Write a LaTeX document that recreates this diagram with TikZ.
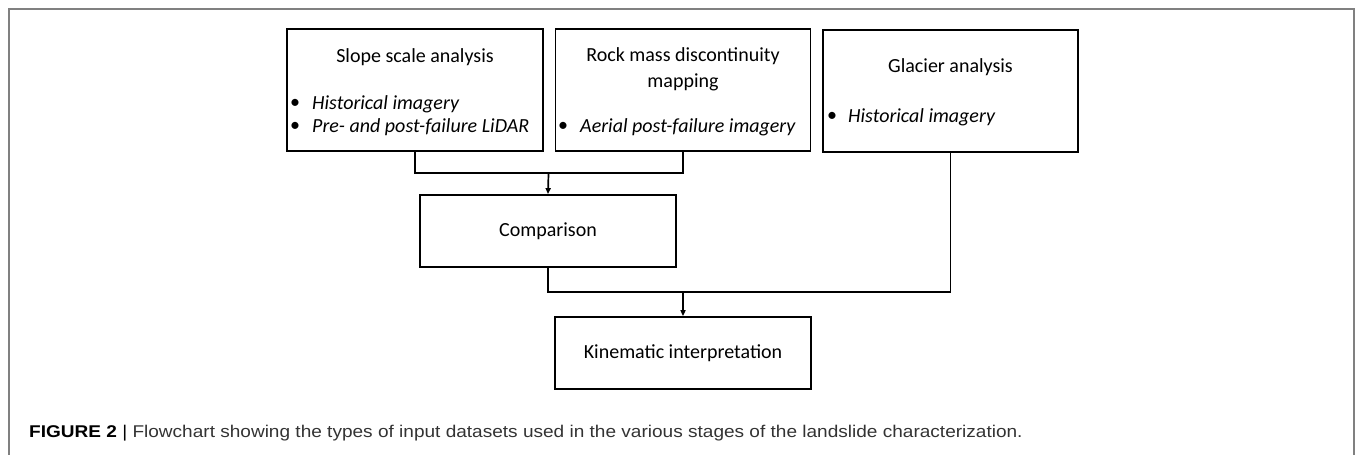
\documentclass[tikz,border=0pt]{standalone}
\usepackage{fontspec}
\setmainfont{Carlito}
\newfontfamily\capfont{Liberation Sans}
\usetikzlibrary{arrows.meta}
\definecolor{framegray}{HTML}{808080}
\definecolor{captext}{HTML}{333333}
\begin{document}
\begin{tikzpicture}[x=1pt,y=-1pt,
  box/.style={draw=black, line width=1.7pt, rectangle, inner sep=0pt},
  title/.style={font=\fontsize{20}{24}\selectfont, align=center, inner sep=0pt},
  item/.style={font=\fontsize{20}{24}\selectfont\itshape, anchor=west, inner sep=0pt},
  bul/.style={font=\fontsize{20}{24}\selectfont, anchor=center, inner sep=0pt},
  conn/.style={draw=black, line width=1.7pt},
  arr/.style={conn, -{Triangle[length=6pt,width=5pt]}}]
\useasboundingbox (0,0) rectangle (1355,455);
\draw[framegray, line width=1.5pt] (9,456) -- (9,9) -- (1354,9) -- (1354,456);

% boxes
\node[box, minimum width=256pt, minimum height=122pt] (b1) at (415,90) {};
\node[box, minimum width=255pt, minimum height=122pt] (b2) at (683,90) {};
\node[box, minimum width=255pt, minimum height=122pt] (b3) at (950.5,91) {};
\node[box, minimum width=256pt, minimum height=72pt] (cmp) at (548,231) {};
\node[box, minimum width=256pt, minimum height=72pt] (kin) at (683,353) {};

% texts
\node[title] (t1) at (415,57) {Slope scale analysis};
\node[bul] (d1a) at (295,104) {\textbullet};
\node[item] (i1a) at (312,104) {Historical imagery};
\node[bul] (d1b) at (295,127) {\textbullet};
\node[item] (i1b) at (312,127) {Pre- and post-failure LiDAR};

\node[title] (t2a) at (683,56) {Rock mass discontinuity};
\node[title] (t2b) at (683,82) {mapping};
\node[bul] (d2a) at (563,127) {\textbullet};
\node[item] (i2a) at (580,127) {Aerial post-failure imagery};

\node[title] (t3) at (950.5,67) {Glacier analysis};
\node[bul] (d3a) at (832,117) {\textbullet};
\node[item] (i3a) at (848,117) {Historical imagery};

\node[title] (t4) at (548,231) {Comparison};
\node[title] (t5) at (683,353) {Kinematic interpretation};

% connectors
\coordinate (j1) at (548.5,173);
\coordinate (j2) at (683,292);
\draw[conn] (b1.south) |- (j1) -| (b2.south);
\draw[arr] (j1) -- (cmp.north);
\draw[conn] (cmp.south) |- (j2) -| (b3.south);
\draw[arr] (j2) -- (kin.north);

% caption
\node[anchor=west, inner sep=0pt, font=\capfont\fontsize{17}{20}\selectfont] (cap) at (29,433)
  {\scalebox{1.12}[1]{\textbf{FIGURE 2} | \color{captext}Flowchart showing the types of input datasets used in the various stages of the landslide characterization.}};
\end{tikzpicture}
\end{document}
